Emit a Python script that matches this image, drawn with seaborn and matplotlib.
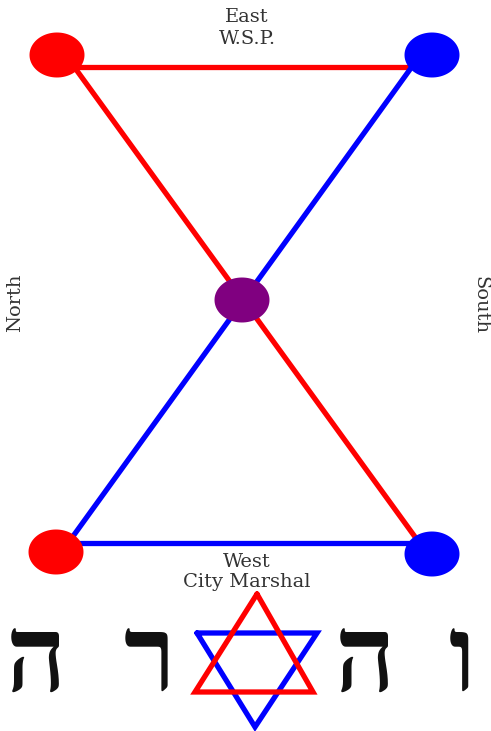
import numpy as np
import pandas as pd
import matplotlib
matplotlib.use("Agg")
import matplotlib.pyplot as plt
from matplotlib.path import Path
import seaborn as sns

# ---- data ----
node_x = [57, 432, 242, 56, 432]
node_y = [55, 55, 300, 552, 554]
node_color = ["#ff0000", "#0000ff", "#800080", "#ff0000", "#0000ff"]

edge_x0 = [57, 75, 411, 56]
edge_y0 = [67, 68, 68, 543]
edge_x1 = [432, 418, 66, 432]
edge_y1 = [67, 541, 546, 543]
edge_color = ["#ff0000", "#ff0000", "#0000ff", "#0000ff"]

star_up_x = [257, 313, 195, 257]
star_up_y = [594, 692, 692, 594]
star_down_x = [197, 317, 255, 197]
star_down_y = [633, 633, 727, 633]

top_labels = ["East", "W.S.P."]
bottom_labels = ["West", "City Marshal"]
side_labels = ["North", "South"]
hebrew_letters = ["ה", "ר", "ה", "ו"]
hebrew_x = [36, 150, 365, 462]

sns.set_theme(style="white")
fig = plt.figure(figsize=(4.91, 7.31), dpi=100)
ax = fig.add_axes([0, 0, 1, 1])
ax.set_xlim(0, 491)
ax.set_ylim(731, 0)
ax.axis("off")

# edges
for x0, y0, x1, y1, c in zip(edge_x0, edge_y0, edge_x1, edge_y1, edge_color):
    sns.lineplot(x=[x0, x1], y=[y0, y1], sort=False, estimator=None, color=c,
                 lw=3.8, ax=ax, solid_capstyle="butt")

# ellipse marker
t = np.linspace(0, 2 * np.pi, 80)
verts = np.column_stack([np.cos(t), np.sin(t) * 45 / 55])
ell = Path(verts, closed=True)
df = pd.DataFrame({"x": node_x, "y": node_y, "c": node_color})
sns.scatterplot(data=df, x="x", y="y", hue="c", palette={c: c for c in set(node_color)},
                marker=ell, s=(55 * 0.72) ** 2, linewidth=0, legend=False, ax=ax, zorder=5)

# star
sns.lineplot(x=star_down_x, y=star_down_y, sort=False, estimator=None, color="#0000ff",
             lw=3.8, ax=ax, solid_joinstyle="miter")
sns.lineplot(x=star_up_x, y=star_up_y, sort=False, estimator=None, color="#ff0000",
             lw=3.8, ax=ax, solid_joinstyle="miter")

serif = "DejaVu Serif"
tc = "#333333"
fs = 14
ax.text(247, 17, top_labels[0], ha="center", va="center", fontsize=fs, family=serif, color=tc)
ax.text(247, 39, top_labels[1], ha="center", va="center", fontsize=fs, family=serif, color=tc)
ax.text(247, 562, bottom_labels[0], ha="center", va="center", fontsize=fs, family=serif, color=tc)
ax.text(247, 582, bottom_labels[1], ha="center", va="center", fontsize=fs, family=serif, color=tc)
ax.text(15, 303, side_labels[0], ha="center", va="center", rotation=90, fontsize=fs, family=serif, color=tc)
ax.text(480, 305, side_labels[1], ha="center", va="center", rotation=-90, fontsize=fs, family=serif, color=tc)

for hx, ch in zip(hebrew_x, hebrew_letters):
    ax.text(hx, 666, ch, ha="center", va="center", fontsize=76,
            family=["Liberation Serif", "DejaVu Sans"], color="#111111", fontweight="bold")

fig.savefig("out.png", dpi=100)
